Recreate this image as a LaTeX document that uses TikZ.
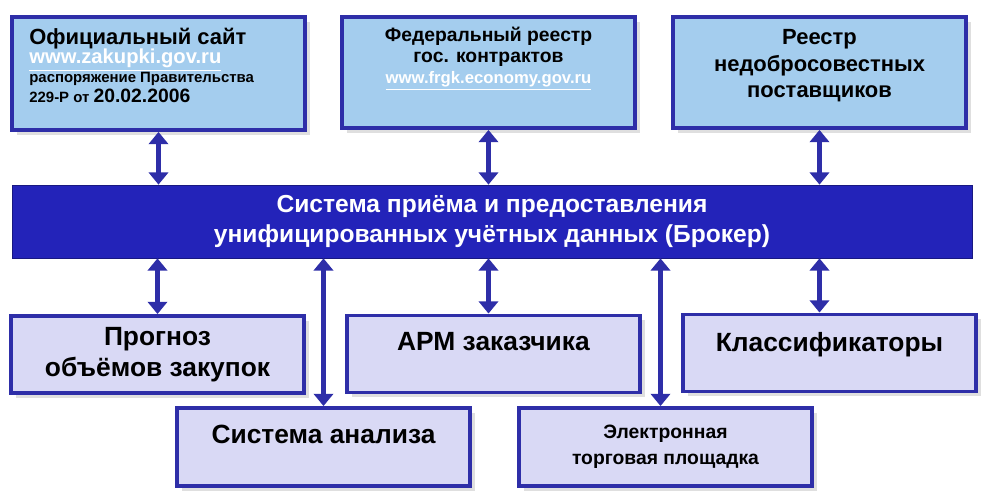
\documentclass[tikz,border=0pt]{standalone}
\usepackage{fontspec}
\setmainfont{Liberation Sans}
\usetikzlibrary{arrows.meta,shadows}
\definecolor{topfill}{HTML}{A4CDEE}
\definecolor{botfill}{HTML}{D9D9F5}
\definecolor{edge}{HTML}{2E2EA8}
\definecolor{barblue}{HTML}{2323B9}
\tikzset{
  topbox/.style={draw=edge,line width=2.2pt,fill=topfill,minimum width=5.86cm,minimum height=2.22cm,font=\bfseries,drop shadow={opacity=0.25}},
  botbox/.style={draw=edge,line width=2.2pt,fill=botfill,minimum width=5.86cm,minimum height=1.54cm,font=\bfseries,drop shadow={opacity=0.25}},
  link/.style={draw=edge,line width=3pt,{Triangle[length=7pt,width=11pt]}-{Triangle[length=7pt,width=11pt]}}
}
\begin{document}
\begin{tikzpicture}
		\useasboundingbox (0,0) rectangle (19.8,10);
		%top row
		\node[topbox,minimum height=2.26cm] (site) at (3.17,8.53) {};
		\node[anchor=north west,align=left,font=\bfseries,inner sep=0pt] (sitetxt) at (0.58,9.45)
			{\fontsize{12.5}{14}\selectfont Официальный сайт\\[-1pt]
			 \fontsize{11.5}{13}\selectfont\textcolor{white}{\underline{www.zakupki.gov.ru}}\\[-1pt]
			 \fontsize{8.5}{10}\selectfont распоряжение Правительства\\[-1pt]
			 \fontsize{8.5}{10}\selectfont 229-Р от {\fontsize{11}{12}\selectfont 20.02.2006}};
		\node[topbox,align=center] (reestr) at (9.77,8.55)
			{\fontsize{11}{13}\selectfont Федеральный реестр\\ \fontsize{11}{13}\selectfont гос. контрактов\\
			 \fontsize{9.5}{12}\selectfont\textcolor{white}{\underline{www.frgk.economy.gov.ru}}\\[8pt]};
		\node[topbox,align=center,font=\bfseries\fontsize{12.5}{15}\selectfont,text depth=10pt] (nedobr) at (16.39,8.55)
			{Реестр\\ недобросовестных\\ поставщиков};
		%central bar
		\node[fill=barblue,draw=barblue!70!black,minimum width=19.2cm,minimum height=1.46cm,text=white,align=center,
			font=\bfseries\fontsize{14}{17}\selectfont] (broker) at (9.84,5.57)
			{Система приёма и предоставления\\ унифицированных учётных данных (Брокер)};
		%bottom rows
		\node[botbox,align=center,font=\bfseries\fontsize{15}{18}\selectfont] (prognoz) at (3.15,2.91) {Прогноз\\ объёмов закупок};
		\node[botbox,font=\bfseries\fontsize{15}{18}\selectfont,text depth=14pt] (arm) at (9.87,2.92) {АРМ заказчика};
		\node[botbox,font=\bfseries\fontsize{15}{18}\selectfont,text depth=12pt] (klass) at (16.59,2.94) {Классификаторы};
		\node[botbox,minimum height=1.56cm,font=\bfseries\fontsize{15}{18}\selectfont,text depth=14pt] (analiz) at (6.47,1.06) {Система анализа};
		\node[botbox,minimum height=1.56cm,align=center,font=\bfseries\fontsize{11}{15}\selectfont] (etp) at (13.31,1.06) {Электронная\\ торговая площадка};
		%links
		\draw[link] (site) -- (site |- broker.north);
		\draw[link] (reestr) -- (reestr |- broker.north);
		\draw[link] (nedobr) -- (nedobr |- broker.north);
		\draw[link] (prognoz) -- (prognoz |- broker.south);
		\draw[link] (arm.north -| reestr) -- (reestr |- broker.south);
		\draw[link] (klass.north -| nedobr) -- (nedobr |- broker.south);
		\draw[link] (analiz) -- (analiz |- broker.south);
		\draw[link] ([xshift=-0.1cm]etp.north) -- ([xshift=-0.1cm]etp.north |- broker.south);
\end{tikzpicture}
\end{document}
